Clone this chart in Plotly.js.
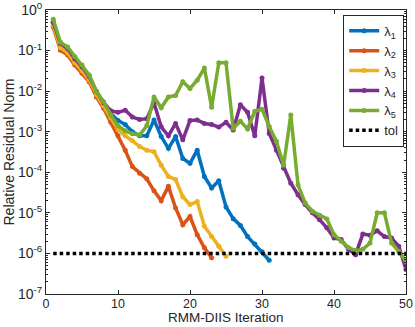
<!DOCTYPE html>
<html>
<head>
<meta charset="utf-8">
<script src="https://cdn.plot.ly/plotly-3.0.1.min.js"></script>
<style>
  html, body { margin: 0; padding: 0; background: #fff; }
  #chart { width: 415px; height: 327px; }
</style>
</head>
<body>
<div id="chart"></div>
<script>
// iteration numbers
const iterations = [1,2,3,4,5,6,7,8,9,10,11,12,13,14,15,16,17,18,19,20,21,22,23,24,25,
  26,27,28,29,30,31,32,33,34,35,36,37,38,39,40,41,42,43,44,45,46,47,48,49,50];

// residual norms per eigenvalue
const lambda1 = [0.50,0.135,0.105,0.060,0.038,0.022,9.5e-3,5.0e-3,2.8e-3,1.9e-3,
  1.5e-3,1.0e-3,7.9e-4,7.9e-4,1.95e-3,7.6e-4,3.9e-4,7.6e-4,2.2e-4,1.66e-4,
  3.5e-4,7.9e-5,4.1e-5,6.2e-5,1.4e-5,7.2e-6,4.9e-6,2.6e-6,1.7e-6,1.1e-6,6.8e-7];
const lambda2 = [0.38,0.102,0.078,0.044,0.0275,0.017,7.2e-3,3.8e-3,1.7e-3,7.9e-4,
  3.5e-4,1.38e-4,9.5e-5,6.9e-5,3.5e-5,2.0e-5,4.5e-5,1.32e-5,5.1e-6,8.1e-6,
  2.9e-6,1.38e-6,7.8e-7];
const lambda3 = [0.43,0.117,0.089,0.050,0.032,0.019,8.3e-3,4.4e-3,2.2e-3,1.12e-3,
  7.9e-4,6.0e-4,4.3e-4,3.5e-4,3.2e-4,1.5e-4,7.9e-5,6.6e-5,2.5e-5,1.6e-5,
  1.9e-5,4.7e-6,2.6e-6,1.5e-6,8.5e-7];
const lambda4 = [0.50,0.15,0.112,0.063,0.040,0.023,0.010,5.2e-3,3.3e-3,3.0e-3,
  3.4e-3,2.3e-3,2.0e-3,2.1e-3,5.2e-3,1.32e-3,7.9e-4,1.6e-3,6.3e-4,1.9e-3,
  1.95e-3,1.6e-3,1.5e-3,1.3e-3,1.7e-3,1.1e-3,4.6e-3,3.0e-3,7.9e-4,0.021,
  9.1e-4,3.5e-4,1.26e-4,5.4e-5,2.8e-5,1.6e-5,1.0e-5,6.8e-6,4.3e-6,2.4e-6,
  2.2e-6,1.26e-6,9.3e-7,3.0e-6,2.8e-6,3.6e-6,2.6e-6,2.4e-6,1.5e-6,4.0e-7];
const lambda5 = [0.59,0.16,0.123,0.071,0.044,0.025,9.8e-3,5.5e-3,2.6e-3,1.4e-3,
  1.05e-3,8.9e-4,8.3e-4,1.4e-3,7.2e-3,3.9e-3,7.2e-3,7.8e-3,0.017,0.0117,
  0.0186,0.037,4.0e-3,0.050,0.050,1.2e-3,1.8e-3,1.17e-3,3.2e-3,3.6e-3,
  1.35e-3,5.8e-4,1.5e-4,2.6e-3,4.9e-5,1.74e-5,1.1e-5,8.7e-6,7.1e-6,2.9e-6,
  2.0e-6,1.4e-6,1.17e-6,1.26e-6,1.8e-6,1.0e-5,1.0e-5,1.8e-6,1.12e-6,6.3e-7];

const tolX = [1, 50];
const tolY = [1e-6, 1e-6];

const seriesNames = ["λ<sub>1</sub>","λ<sub>2</sub>","λ<sub>3</sub>","λ<sub>4</sub>","λ<sub>5</sub>"];
const seriesColors = ["#0072BD","#D95319","#EDB120","#7E2F8E","#77AC30"];
const seriesData = [lambda1, lambda2, lambda3, lambda4, lambda5];

const yTickVals = [1e-7,1e-6,1e-5,1e-4,1e-3,1e-2,1e-1,1];
const yTickText = ["10<sup>-7</sup>","10<sup>-6</sup>","10<sup>-5</sup>","10<sup>-4</sup>",
  "10<sup>-3</sup>","10<sup>-2</sup>","10<sup>-1</sup>","10<sup>0</sup>"];

const traces = seriesData.map(function(vals, k){
  return {
    x: iterations.slice(0, vals.length),
    y: vals,
    type: "scatter",
    mode: "lines+markers",
    name: seriesNames[k],
    line: {color: seriesColors[k], width: 3.5},
    marker: {color: seriesColors[k], size: 5}
  };
});

traces.push({
  x: tolX,
  y: tolY,
  type: "scatter",
  mode: "lines",
  name: "tol",
  line: {color: "#000000", width: 3.5, dash: "3.5px,3px"}
});

const axisColor = "#262626";

Plotly.newPlot("chart", traces, {
  width: 415,
  height: 327,
  margin: {l: 46, r: 9, t: 10, b: 33},
  paper_bgcolor: "#ffffff",
  plot_bgcolor: "#ffffff",
  font: {family: "Liberation Sans, Arial, sans-serif", size: 14, color: axisColor},
  showlegend: true,
  legend: {
    x: 0.995, y: 0.983, xanchor: "right", yanchor: "top",
    bgcolor: "#ffffff", bordercolor: axisColor, borderwidth: 1,
    font: {size: 13, color: axisColor},
    itemwidth: 30, tracegroupgap: 0
  },
  // x title as annotation so it sits flush with the bottom edge
  annotations: [{
    text: "RMM-DIIS Iteration",
    xref: "paper", yref: "paper",
    x: 0.5, y: -0.116, xanchor: "center", yanchor: "bottom",
    showarrow: false,
    font: {size: 13.5, color: axisColor}
  }],
  xaxis: {
    range: [0, 50],
    tickvals: [0, 10, 20, 30, 40, 50],
    tickfont: {size: 12.5},
    ticks: "inside", ticklen: 4, tickcolor: axisColor,
    ticklabelstandoff: -2,
    showline: true, linecolor: axisColor, linewidth: 1, mirror: "ticks",
    showgrid: false, zeroline: false
  },
  yaxis: {
    type: "log",
    range: [-7.0005, 0.0005],
    tickmode: "array",
    tickvals: yTickVals,
    ticktext: yTickText,
    ticklabeloverflow: "allow",
    ticks: "inside", ticklen: 4, tickcolor: axisColor,
    minor: {ticks: "inside", ticklen: 2, tickcolor: axisColor, dtick: "D1", showgrid: false},
    showline: true, linecolor: axisColor, linewidth: 1, mirror: "ticks",
    showgrid: false, zeroline: false,
    title: {text: "Relative Residual Norm", standoff: 0, font: {size: 14}}
  }
}, {displayModeBar: false, staticPlot: true});
</script>
</body>
</html>
